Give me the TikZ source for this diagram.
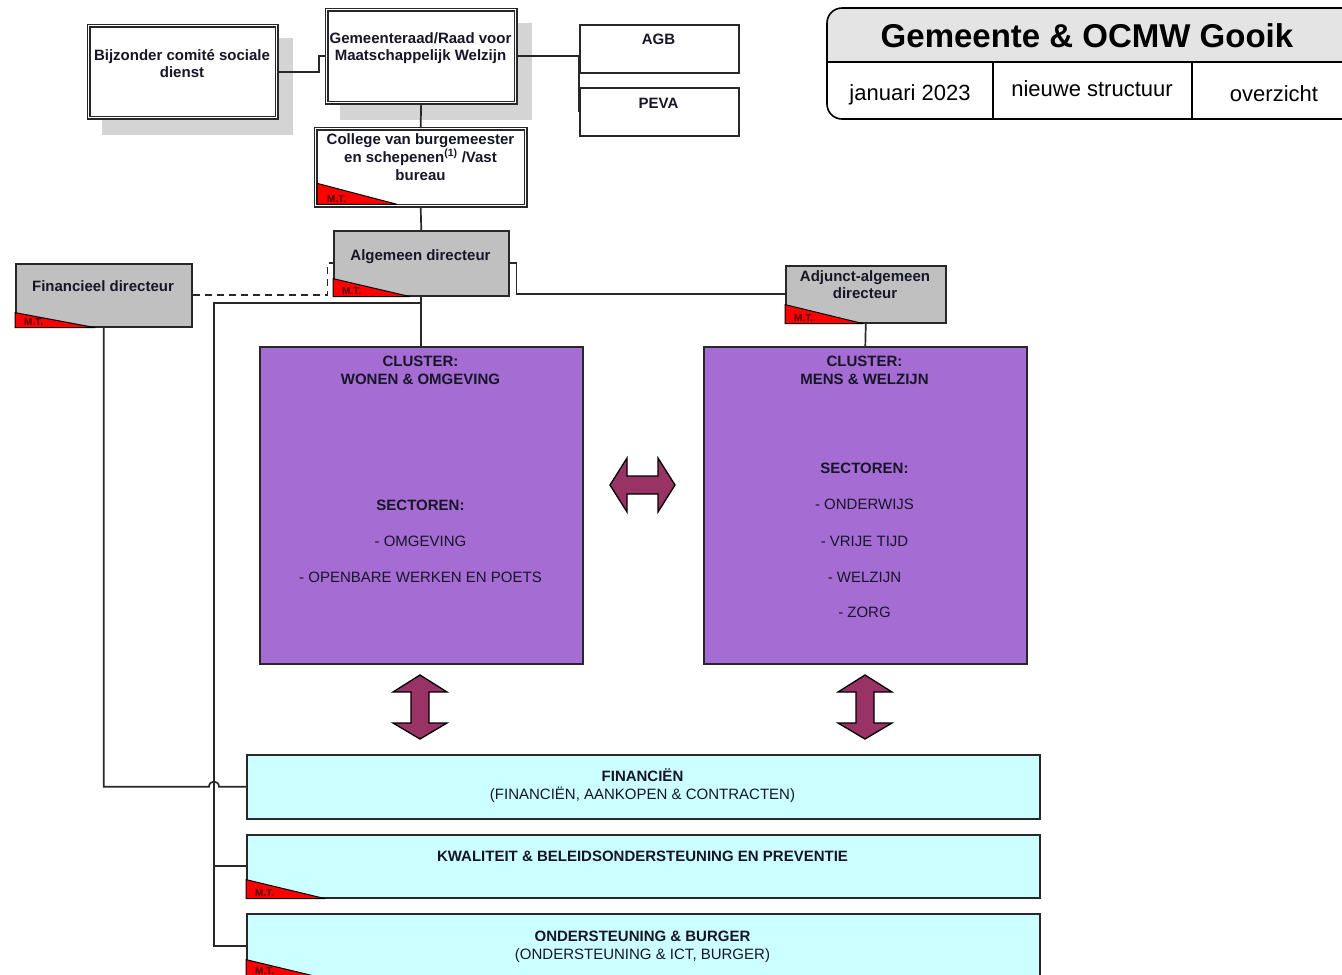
\documentclass[tikz,border=0pt]{standalone}
\usepackage{fontspec}
\setmainfont{Liberation Sans}
\usetikzlibrary{calc}
\definecolor{boxline}{RGB}{40,40,40}
\definecolor{boxgrey}{RGB}{192,192,192}
\definecolor{shadowgrey}{RGB}{212,212,212}
\definecolor{clusterpurple}{RGB}{165,108,212}
\definecolor{lightcyan}{RGB}{204,255,255}
\definecolor{arrowmaroon}{RGB}{153,51,102}
\definecolor{mtred}{RGB}{255,0,0}
\definecolor{titlegrey}{RGB}{228,228,228}
\definecolor{txtc}{RGB}{22,22,40}
\begin{document}
\begin{tikzpicture}[x=1pt,y=-1pt,
  dbox/.style={draw=boxline, double=white, double distance=1.6pt, line width=1.3pt, fill=white, inner sep=0pt, anchor=north west},
  sbox/.style={draw=boxline, line width=1.6pt, inner sep=0pt, anchor=north west},
  gbox/.style={sbox, fill=boxgrey},
  wbox/.style={sbox, fill=white},
  cbox/.style={sbox, fill=clusterpurple},
  lbox/.style={sbox, fill=lightcyan},
  headtxt/.style={anchor=base, inner sep=0pt, text=txtc, font=\fontsize{15}{18}\selectfont\bfseries},
  itemtxt/.style={anchor=base, inner sep=0pt, text=txtc, font=\fontsize{15}{18}\selectfont},
  conn/.style={draw=boxline, line width=1.7pt},
  tri/.style={fill=mtred, draw=black, line width=1pt, line join=round},
  mtlab/.style={anchor=base west, inner sep=0pt, text=black!70!red, font=\fontsize{10}{10}\selectfont\bfseries},
  bigarrow/.style={fill=arrowmaroon, draw=black, line width=1.3pt, line join=miter},
  shadowbox/.style={fill=shadowgrey, draw=none},
]
\path[use as bounding box] (0,0) rectangle (1342,975);
\clip (0,0) rectangle (1342,975);

% shadows
\fill[shadowbox] (102,38) rectangle (293,135);
\fill[shadowbox] (340,23) rectangle (532,120);

% boxes
\node[dbox, minimum width=188pt, minimum height=92pt] (bij) at (88,25) {};
\node[dbox, minimum width=189pt, minimum height=93pt] (gem) at (326,9) {};
\node[dbox, minimum width=210pt, minimum height=77pt] (col) at (315,128) {};
\node[wbox, minimum width=159pt, minimum height=48pt] (agb) at (579,24) {};
\node[wbox, minimum width=159pt, minimum height=48pt] (peva) at (579,87) {};
\node[gbox, minimum width=175pt, minimum height=65pt] (alg) at (333,230) {};
\node[gbox, minimum width=176pt, minimum height=63pt] (fin) at (15,263) {};
\node[gbox, minimum width=160pt, minimum height=57pt] (adj) at (785,265) {};
\node[cbox, minimum width=323pt, minimum height=317pt] (cl1) at (259,346) {};
\node[cbox, minimum width=323pt, minimum height=317pt] (cl2) at (703,346) {};
\node[lbox, minimum width=793pt, minimum height=64pt] (finz) at (246,754) {};
\node[lbox, minimum width=793pt, minimum height=63pt] (kwa) at (246,834) {};
\node[lbox, minimum width=793pt, minimum height=64pt] (ond) at (246,913) {};

% connectors
\draw[conn] (bij.east) -- ++(42,0) |- (gem.west);
\draw[conn] (gem.east) -- (gem.east -| agb.west) |- (peva.west);
\draw[conn] (gem.south) -- (col.north);
\draw[conn] (col.south) -- (alg.north);
\draw[conn, dash pattern=on 7pt off 5pt] (fin.east) -- ++(135,0) |- (alg.west);
\draw[conn] (alg.east) -- ++(7,0) |- (adj.west);
\draw[conn] (alg.south) -- (cl1.north);
\draw[conn] (adj.south) -- (cl2.north);
\coordinate (bus) at (214,303);
\draw[conn] (alg.south |- bus) -- (bus) |- (ond.west);
\draw[conn] (bus |- kwa.west) -- (kwa.west);
\coordinate (hopL) at ($(bus |- finz.west)+(-5,0)$);
\draw[conn] (fin.south) |- (hopL) .. controls +(0,-7) and +(0,-7) .. ++(10,0) -- (finz.west);

% M.T. triangles
\filldraw[tri] ([shift={(2,-2)}]col.south west) -- ++(0,-21) -- ++(80,21) -- cycle;
\filldraw[tri] (alg.south west) -- ++(0,-18) -- ++(77,18) -- cycle;
\filldraw[tri] (fin.south west) -- ++(0,-15) -- ++(80,15) -- cycle;
\filldraw[tri] (adj.south west) -- ++(0,-19) -- ++(78,19) -- cycle;
\filldraw[tri] (kwa.south west) -- ++(0,-19) -- ++(79,19) -- cycle;
\filldraw[tri] (ond.south west) -- ++(0,-19) -- ++(79,19) -- cycle;
\node[mtlab] (colMT) at ([shift={(12,-4)}]col.south west) {M.T.};
\node[mtlab] (algMT) at ([shift={(9,-2)}]alg.south west) {M.T.};
\node[mtlab] (finMT) at ([shift={(9,-2)}]fin.south west) {M.T.};
\node[mtlab] (adjMT) at ([shift={(9,-2)}]adj.south west) {M.T.};
\node[mtlab] (kwaMT) at ([shift={(9,-2)}]kwa.south west) {M.T.};
\node[mtlab] (ondMT) at (255,974) {M.T.};

% texts
\node[headtxt] (bijA) at (182,60) {Bijzonder comité sociale};
\node[headtxt] (bijB) at (182,77) {dienst};
\node[headtxt] (gemA) at (420.5,43) {Gemeenteraad/Raad voor};
\node[headtxt] (gemB) at (420.5,60) {Maatschappelijk Welzijn};
\node[headtxt] (colA) at (420.5,144) {College van burgemeester};
\node[headtxt] (colB) at (420.5,162) {en schepenen\textsuperscript{(1)} /Vast};
\node[headtxt] (colC) at (420.5,180) {bureau};
\node[headtxt] (agbT) at (658.5,44) {AGB};
\node[headtxt] (pevaT) at (658.5,108) {PEVA};
\node[headtxt] (algT) at (420.5,260) {Algemeen directeur};
\node[headtxt] (finT) at (103,291) {Financieel directeur};
\node[headtxt] (adjA) at (865,281) {Adjunct-algemeen};
\node[headtxt] (adjB) at (865,298) {directeur};

\node[headtxt] (cl1A) at (420.5,366) {CLUSTER:};
\node[headtxt] (cl1B) at (420.5,384) {WONEN \& OMGEVING};
\node[headtxt] (cl1C) at (420.5,510) {SECTOREN:};
\node[itemtxt] (cl1D) at (420.5,546) {- OMGEVING};
\node[itemtxt] (cl1E) at (420.5,582) {- OPENBARE WERKEN EN POETS};

\node[headtxt] (cl2A) at (864.5,366) {CLUSTER:};
\node[headtxt] (cl2B) at (864.5,384) {MENS \& WELZIJN};
\node[headtxt] (cl2C) at (864.5,473) {SECTOREN:};
\node[itemtxt] (cl2D) at (864.5,509) {- ONDERWIJS};
\node[itemtxt] (cl2E) at (864.5,546) {- VRIJE TIJD};
\node[itemtxt] (cl2F) at (864.5,582) {- WELZIJN};
\node[itemtxt] (cl2G) at (864.5,617) {- ZORG};

\node[headtxt] (finzA) at (642.5,781) {FINANCIËN};
\node[itemtxt] (finzB) at (642.5,799) {(FINANCIËN, AANKOPEN \& CONTRACTEN)};
\node[headtxt] (kwaT) at (642.5,861) {KWALITEIT \& BELEIDSONDERSTEUNING EN PREVENTIE};
\node[headtxt] (ondA) at (642.5,941) {ONDERSTEUNING \& BURGER};
\node[itemtxt] (ondB) at (642.5,959) {(ONDERSTEUNING \& ICT, BURGER)};

% big arrows
\filldraw[bigarrow] (610,485) -- (627,458) -- (627,476) -- (658,476) -- (658,458) -- (675,485) -- (658,512) -- (658,494) -- (627,494) -- (627,512) -- cycle;
\filldraw[bigarrow] (420,675) -- (447,692) -- (429,692) -- (429,723) -- (447,723) -- (420,739) -- (393,723) -- (411,723) -- (411,692) -- (393,692) -- cycle;
\filldraw[bigarrow] (865,675) -- (892,692) -- (874,692) -- (874,723) -- (892,723) -- (865,739) -- (838,723) -- (856,723) -- (856,692) -- (838,692) -- cycle;

% title block
\begin{scope}
\clip[rounded corners=15pt] (827,8) rectangle (1362,119);
\fill[white] (827,8) rectangle (1362,119);
\fill[titlegrey] (827,8) rectangle (1362,62);
\end{scope}
\draw[line width=1.6pt, rounded corners=15pt] (827,8) rectangle (1362,119);
\draw[line width=1.4pt] (827,62) -- (1362,62);
\draw[line width=1.4pt] (993,62) -- (993,119);
\draw[line width=1.4pt] (1192,62) -- (1192,119);
\node[anchor=base, inner sep=0pt, font=\fontsize{33}{36}\selectfont\bfseries] (title) at (1087,47) {Gemeente \& OCMW Gooik};
\node[anchor=base, inner sep=0pt, font=\fontsize{22}{24}\selectfont] (datum) at (910,100) {januari 2023};
\node[anchor=base, inner sep=0pt, font=\fontsize{22}{24}\selectfont] (struct) at (1092,96.5) {nieuwe structuur};
\node[anchor=base, inner sep=0pt, font=\fontsize{22}{24}\selectfont] (overz) at (1274,101) {overzicht};
\end{tikzpicture}
\end{document}
